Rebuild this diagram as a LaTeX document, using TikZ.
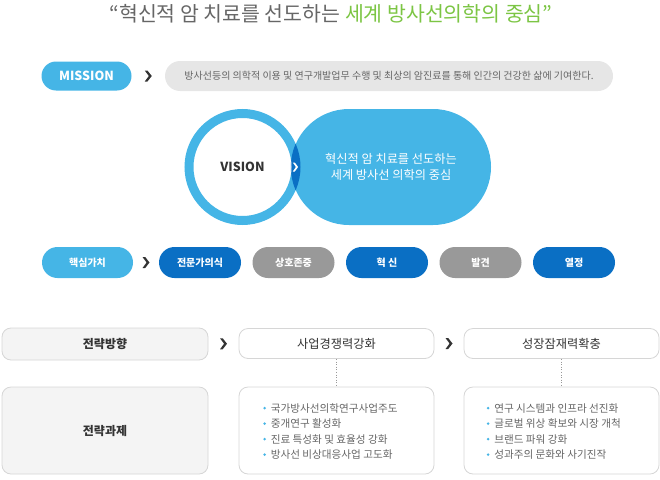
\documentclass[tikz,border=0pt]{standalone}
\usepackage{fontspec}
\setmainfont{Noto Sans CJK KR}
\usetikzlibrary{shapes.misc,calc}
\definecolor{lblue}{HTML}{45B5E6}
\definecolor{dblue}{HTML}{0A6FC4}
\definecolor{pgray}{HTML}{999999}
\definecolor{mgray}{HTML}{E6E6E6}
\definecolor{tgray}{HTML}{666666}
\definecolor{tgreen}{HTML}{7CC544}
\definecolor{bfill}{HTML}{F4F4F4}
\definecolor{bline}{HTML}{D6D6D6}
\definecolor{dark}{HTML}{333333}
\begin{document}
\begin{tikzpicture}[x=1pt,y=-1pt,
  pill/.style={rounded rectangle, minimum width=82pt, minimum height=31pt, inner sep=0pt, text=white, font=\fontsize{10}{11}\selectfont\bfseries},
  sbox/.style={rectangle, rounded corners=9pt, draw=bline, line width=0.8pt, minimum width=206pt, inner sep=0pt},
  wbox/.style={sbox, fill=white, minimum width=195pt},
  gbox/.style={sbox, fill=bfill},
  item/.style={anchor=west, inner sep=0pt, text=tgray, font=\fontsize{10.6}{12}\selectfont},
  chev/.pic={\fill[dark] (-3.5,-5.5) -- (-0.8,-5.5) -- (3.5,0) -- (-0.8,5.5) -- (-3.5,5.5) -- (0.6,0) -- cycle;},
  wchev/.pic={\fill[white] (-2.5,-4.5) -- (-0.5,-4.5) -- (2.8,0) -- (-0.5,4.5) -- (-2.5,4.5) -- (0.6,0) -- cycle;}
]
\useasboundingbox (0,0) rectangle (660,479);

% title
\node[inner sep=0pt, font=\fontsize{20.5}{24}\selectfont] (title) at (331,14)
  {\textcolor{tgray}{“혁신적 암 치료를 선도하는 }\textcolor{tgreen}{세계 방사선의학의 중심”}};

% mission
\node[pill, fill=lblue, minimum width=90pt, minimum height=29pt, font=\fontsize{12.5}{13}\selectfont\bfseries] (mission) at (86.5,76) {MISSION};
\node[rounded rectangle, fill=mgray, minimum width=448pt, minimum height=30pt, inner sep=0pt, text=tgray, font=\fontsize{10}{11}\selectfont] (missiontext) at (389,76)
  {방사선등의 의학적 이용 및 연구개발업무 수행 및 최상의 암진료를 통해 인간의 건강한 삶에 기여한다.};
\pic at ($(mission.east)!0.5!(missiontext.west)$) {chev};

% vision
\node[circle, draw=lblue, line width=9pt, fill=white, minimum size=107pt, inner sep=0pt, text=dark, font=\fontsize{12.5}{14}\selectfont\bfseries] (vision) at (242.5,167) {VISION};
\node[rounded rectangle, fill=lblue, minimum width=200pt, minimum height=116pt, inner sep=0pt, text=white, align=center, font=\fontsize{12.2}{16}\selectfont] (visiontext) at (391,167)
  {혁신적 암 치료를 선도하는\\세계 방사선 의학의 중심};
\begin{scope}
  \clip ($(visiontext.west)+(58,0)$) circle (58);
  \fill[dblue] (vision.center) circle (58);
  \fill[white] (vision.center) circle (49);
\end{scope}
\pic at ($(visiontext.west)+(4.5,0)$) {wchev};

% core values
\node[pill, fill=lblue, minimum width=91pt] (core) at (87.5,262.5) {핵심가치};
\node[pill, fill=dblue] (v1) at (200,262.5) {전문가의식};
\node[pill, fill=pgray] (v2) at (293.5,262.5) {상호존중};
\node[pill, fill=dblue] (v3) at (387,262.5) {혁 신};
\node[pill, fill=pgray] (v4) at (480.5,262.5) {발견};
\node[pill, fill=dblue] (v5) at (574,262.5) {열정};
\pic at ($(core.east)!0.5!(v1.west)$) {chev};

% strategy
\node[gbox, minimum height=32pt, font=\fontsize{12}{13}\selectfont\bfseries, text=dark] (dir) at (105,344) {전략방향};
\node[wbox, minimum height=30pt, font=\fontsize{12.2}{13}\selectfont, text=dark] (s1) at (336.5,343.5) {사업경쟁력강화};
\node[wbox, minimum height=30pt, font=\fontsize{12.2}{13}\selectfont, text=dark] (s2) at (561.5,343.5) {성장잠재력확충};
\pic at ($(dir.east)!0.5!(s1.west)$) {chev};
\pic at ($(s1.east)!0.5!(s2.west)$) {chev};

\node[gbox, minimum height=87pt, font=\fontsize{12}{13}\selectfont\bfseries, text=dark] (task) at (105,430.5) {전략과제};
\node[wbox, minimum height=87pt] (t1) at (336.5,430.5) {};
\node[wbox, minimum height=87pt] (t2) at (561.5,430.5) {};
\draw[pgray, line width=0.6pt, dotted] (s1.south) -- (t1.north);
\draw[pgray, line width=0.6pt, dotted] (s2.south) -- (t2.north);

\foreach \t [count=\i] in {국가방사선의학연구사업주도, 중개연구 활성화, 진료 특성화 및 효율성 강화, 방사선 비상대응사업 고도화} {
  \node[item] (t1i\i) at ($(t1.north west)+(32,21.5+15.5*\i-15.5)$) {\t};
  \fill[lblue] ($(t1i\i.west)+(-6,0)$) circle (1.4);
}
\foreach \t [count=\i] in {연구 시스템과 인프라 선진화, 글로벌 위상 확보와 시장 개척, 브랜드 파워 강화, 성과주의 문화와 사기진작} {
  \node[item] (t2i\i) at ($(t2.north west)+(30.5,21.5+15.5*\i-15.5)$) {\t};
  \fill[lblue] ($(t2i\i.west)+(-6,0)$) circle (1.4);
}
\end{tikzpicture}
\end{document}
